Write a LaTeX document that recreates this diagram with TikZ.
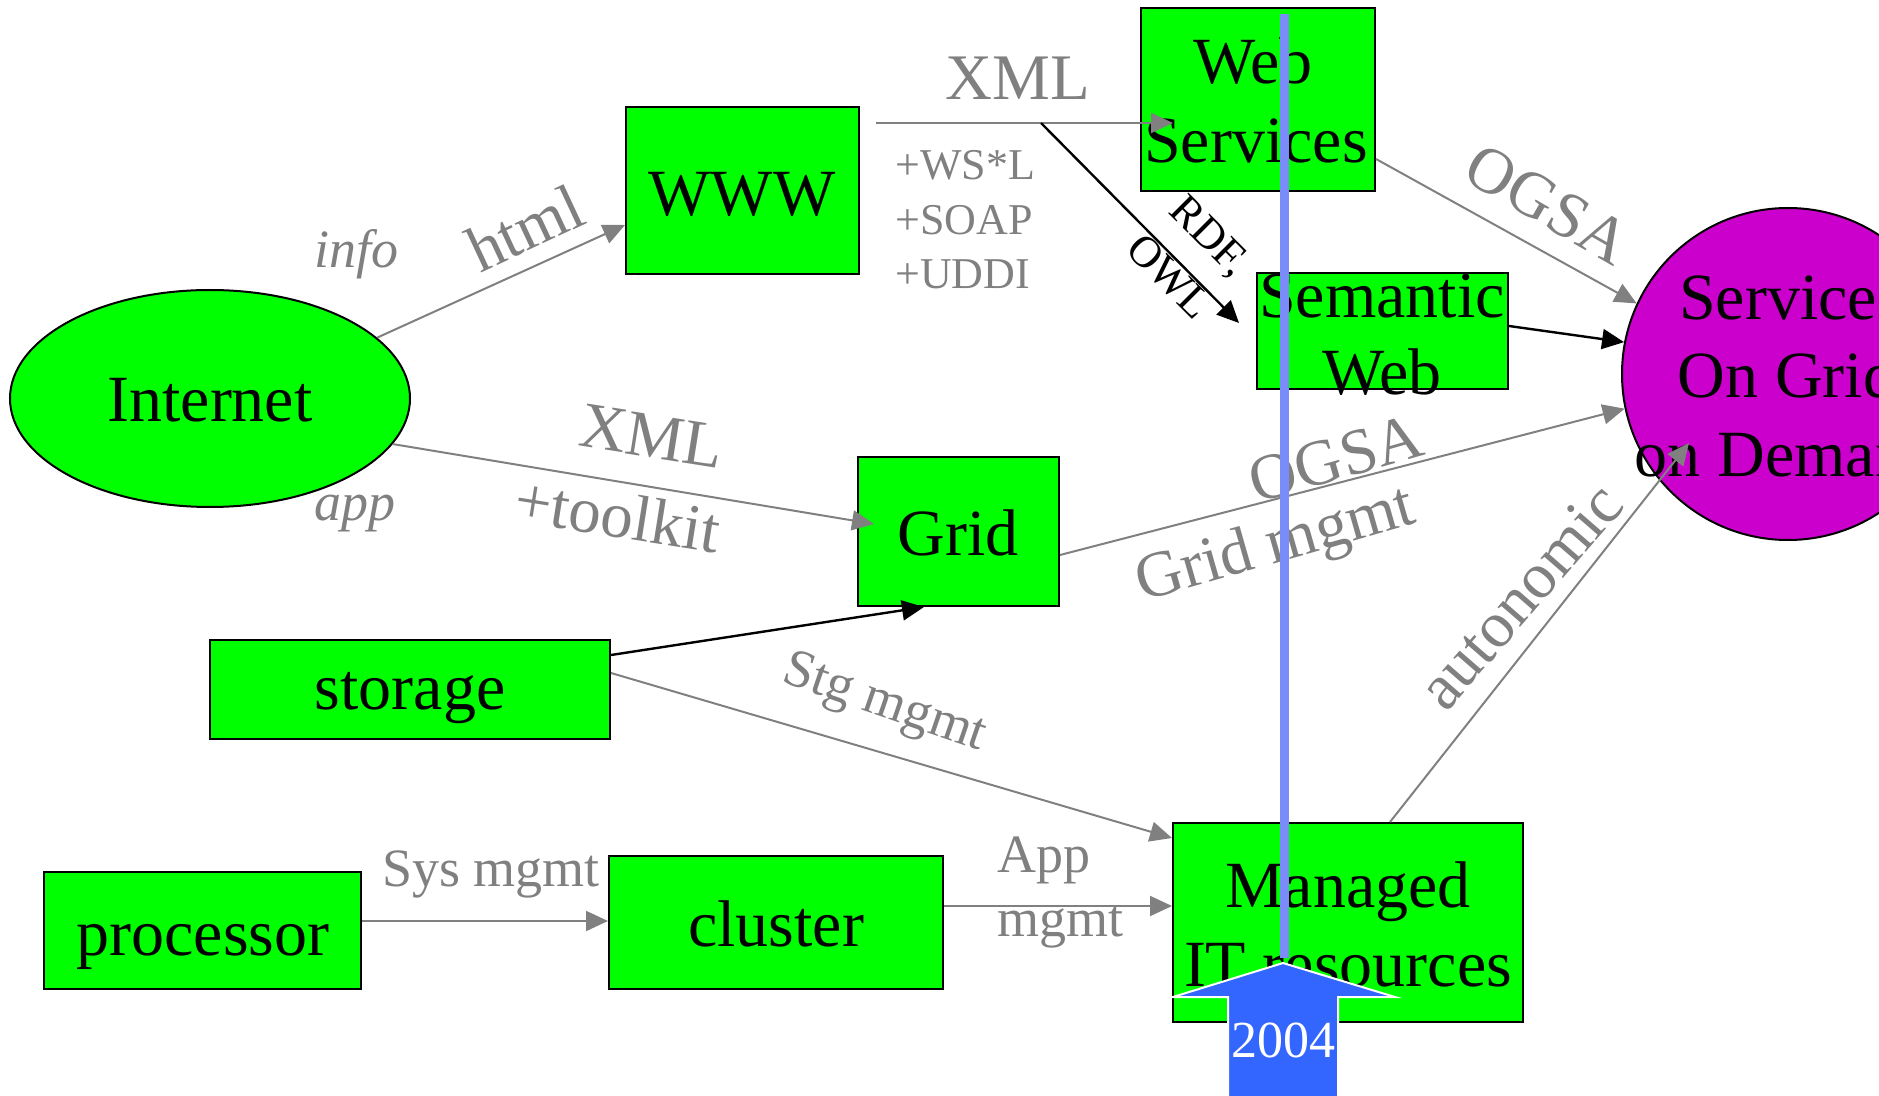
\documentclass[tikz,border=0pt]{standalone}
\usepackage{fontspec}
\setmainfont{Liberation Serif}
\usetikzlibrary{shapes.geometric,arrows.meta,calc,fit}
\definecolor{boxgreen}{RGB}{0,255,0}
\definecolor{svcmag}{RGB}{204,0,204}
\definecolor{linkgray}{RGB}{128,128,128}
\definecolor{yearline}{RGB}{122,140,250}
\definecolor{yearblue}{RGB}{51,102,255}
\begin{document}
\begin{tikzpicture}[x=0.5pt,y=-0.5pt,
  box/.style={draw=black,line width=1pt,fill=boxgreen,inner sep=0pt},
  main/.style={font=\fontsize{33}{39}\selectfont,text=black,inner sep=0pt,anchor=base},
  big/.style={font=\fontsize{32.5}{39}\selectfont,text=linkgray,inner sep=0pt},
  small/.style={font=\fontsize{27}{31}\selectfont,text=linkgray,inner sep=0pt},
  ital/.style={font=\fontsize{27}{31}\selectfont\itshape,text=linkgray,inner sep=0pt},
  tiny/.style={font=\fontsize{22}{27}\selectfont,text=linkgray,inner sep=0pt,anchor=base west},
  glink/.style={draw=linkgray,line width=1pt,-{Triangle[length=11pt,width=10pt]}},
  blink/.style={draw=black,line width=1.2pt,-{Triangle[length=11pt,width=10pt]}},
]
\useasboundingbox (0,0) rectangle (1879,1096);

% shapes
\node[box,ellipse,minimum width=200pt,minimum height=108.5pt] (inet) at (210,398.5) {};
\node[box,fit={(626,107)(859,274)}] (www) {};
\node[box,fit={(1141,8)(1375,191)}] (ws) {};
\node[box,fit={(1257,273)(1508,389)}] (sw) {};
\node[box,fit={(858,457)(1059,606)}] (grid) {};
\node[box,fit={(210,640)(610,739)}] (stor) {};
\node[box,fit={(44,872)(361,989)}] (proc) {};
\node[box,fit={(609,856)(943,989)}] (cl) {};
\node[box,fit={(1173,823)(1523,1022)}] (it) {};
\node[draw=black,line width=1pt,fill=svcmag,circle,minimum size=166pt,inner sep=0pt] (svc) at (1788,374) {};

% shape texts
\node[main] (inet-t) at (210,422) {Internet};
\node[main] (www-t) at (742,216) {WWW};
\node[main] (ws-t1) at (1253,84) {Web};
\node[main] (ws-t2) at (1256,163) {Services};
\node[main] (sw-t1) at (1382,318) {Semantic};
\node[main] (sw-t2) at (1382,395) {Web};
\node[main] (grid-t) at (958,555) {Grid};
\node[main] (stor-t) at (410,709) {storage};
\node[main] (proc-t) at (203,955) {processor};
\node[main] (cl-t) at (776,946) {cluster};
\node[main] (it-t1) at (1348,907) {Managed};
\node[main] (it-t2) at (1348,986) {IT resources};
\node[main] (svc-t1) at (1778,320) {Service};
\node[main] (svc-t2) at (1787,398) {On Grid};
\node[main] (svc-t3) at (1788,476) {on Demand};

% connectors
\coordinate (fork) at (1041,123);
\draw[glink] (inet.20) -- (www.west |- 0,225);
\draw[glink] (inet.-14) -- ($(grid.west |- 0,524)+(17,0)$);
\draw[glink] ($(www.east |- 0,123)+(16,0)$) -- ($(ws.west |- 0,123)+(33,0)$);
\draw[blink] (fork) -- ($(sw.west)+(-17,-8)$);
\draw[glink] (ws.east |- 0,159) -- (svc.155);
\draw[blink] (sw.east |- 0,326) -- (svc.169);
\draw[glink] (grid.east |- 0,555) -- (svc.192);
\draw[blink] (stor.east |- 0,655) -- (924,0 |- grid.south);
\draw[glink] (stor.east |- 0,673) -- (it.west |- 0,838);
\draw[glink] (proc.east |- 0,921) -- (cl.west |- 0,921);
\draw[glink] (cl.east |- 0,906) -- (it.west |- 0,906);
\draw[glink] (1390,0 |- it.north) -- ($(svc.center)+(-99,69)$);

% connector labels
\node[big] (xml1) at (1018,78) {XML};
\node[tiny] (ext1) at (895,180) {+WS*L};
\node[tiny] (ext2) at (895,235) {+SOAP};
\node[tiny] (ext3) at (895,289) {+UDDI};
\node[ital] (info) at (356,254) {info};
\node[big,rotate=25] (html) at (525,228) {html};
\node[ital] (app) at (355,514) {app};
\node[big,rotate=-9] (xml2) at (652,436) {XML};
\node[big,rotate=-9] (tk) at (618,515) {+toolkit};
\node[big,rotate=-30] (ogsa1) at (1548,204) {OGSA};
\node[big,rotate=16] (ogsa2) at (1336,459) {OGSA};
\node[big,rotate=16] (gmgmt) at (1276,547) {Grid mgmt};
\node[big,rotate=49] (auto) at (1520,596) {autonomic};
\node[small,rotate=-19] (stg) at (884,705) {Stg mgmt};
\node[small] (sys) at (491,874) {Sys mgmt};
\node[small,anchor=base west] (appm1) at (997,872) {App};
\node[small,anchor=base west] (appm2) at (997,936) {mgmt};
\node[font=\fontsize{22}{29}\selectfont,rotate=-45,align=center,inner sep=0pt] (rdf) at (1190,256) {RDF,\\OWL};

% year marker
\draw[yearline,line width=4.5pt] (1284,14) -- (1284,958);
\filldraw[fill=yearblue,draw=white,line width=1pt]
  (1283,963) -- (1395,997) -- (1338,997) -- (1338,1100) -- (1228,1100)
  -- (1228,997) -- (1173,997) -- cycle;
\node[font=\fontsize{26}{30}\selectfont,text=white,inner sep=0pt] (yr) at (1283,1040) {2004};
\end{tikzpicture}
\end{document}
